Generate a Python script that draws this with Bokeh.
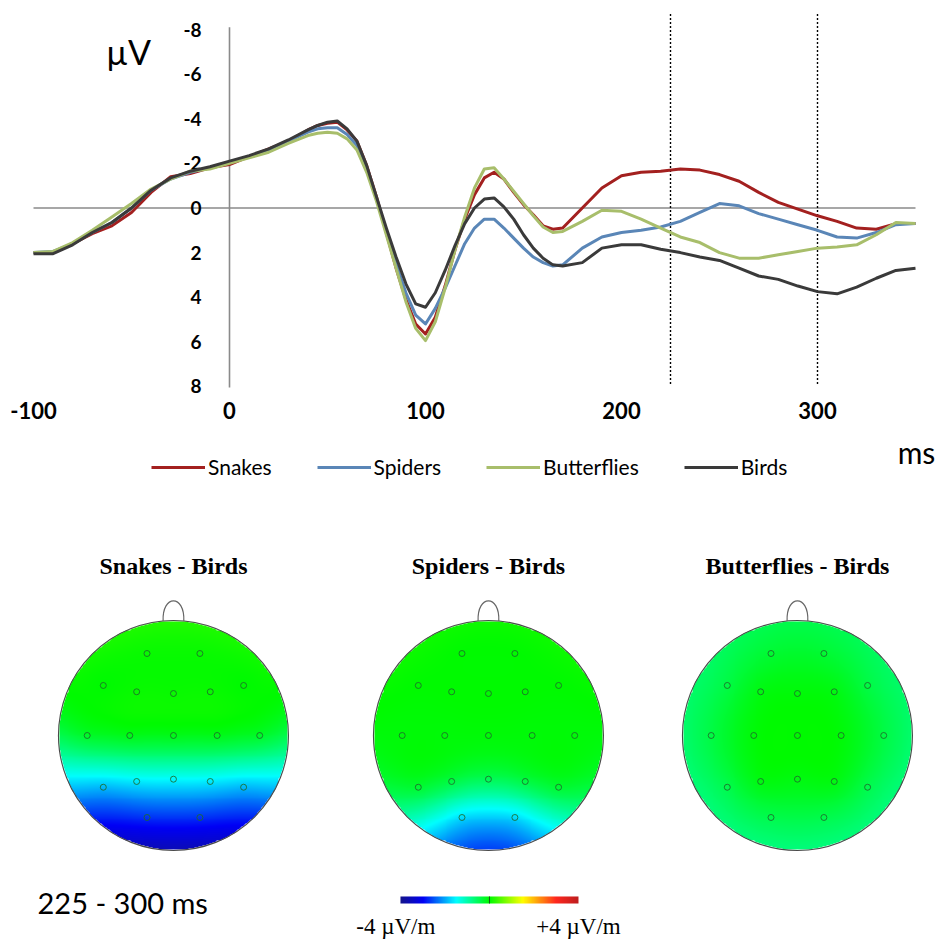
import numpy as np
from bokeh.plotting import figure
from bokeh.layouts import column
from bokeh.models import Range1d
from bokeh.core.properties import value
from bokeh.embed import file_html
from bokeh.resources import INLINE

# ---------------- ERP data (µV, negative plotted upward) ----------------
time_ms = [-100, -90, -80, -70, -60, -50, -40, -30, -20, -10, 0, 10, 20, 30, 40,
           45, 50, 55, 60, 65, 70, 75, 80, 85, 90, 95, 100, 105, 110, 115, 120, 125,
           130, 135, 140, 145, 150, 155, 160, 165, 170,
           180, 190, 200, 210, 220, 230, 240, 250, 260, 270, 280, 290, 300, 310, 320,
           330, 340, 350]

snakes = [2.0, 2.0, 1.6, 1.15, 0.8, 0.2, -0.7, -1.4, -1.55, -1.8, -1.95, -2.3, -2.65, -3.0, -3.5,
          -3.7, -3.8, -3.85, -3.5, -3.0, -1.9, -0.5, 1.1, 2.7, 4.1, 5.2, 5.65, 4.9, 3.5, 1.9, 0.5,
          -0.6, -1.35, -1.6, -1.3, -0.7, -0.15, 0.3, 0.8, 0.95, 0.9,
          0.0, -0.9, -1.45, -1.6, -1.65, -1.75, -1.7, -1.5, -1.2, -0.7, -0.25, 0.05, 0.35, 0.6,
          0.9, 0.95, 0.7, 0.7]
spiders = [2.0, 1.95, 1.6, 1.1, 0.65, 0.0, -0.8, -1.3, -1.6, -1.8, -2.05, -2.3, -2.6, -3.0, -3.4,
           -3.55, -3.6, -3.6, -3.3, -2.8, -1.7, -0.4, 1.0, 2.5, 3.8, 4.8, 5.2, 4.5, 3.6, 2.6, 1.6,
           0.9, 0.5, 0.5, 0.9, 1.35, 1.8, 2.2, 2.45, 2.6, 2.55,
           1.8, 1.3, 1.1, 1.0, 0.85, 0.6, 0.2, -0.2, -0.1, 0.25, 0.5, 0.75, 1.0, 1.3,
           1.35, 1.1, 0.75, 0.7]
butterflies = [2.0, 1.95, 1.55, 1.0, 0.4, -0.2, -0.85, -1.3, -1.65, -1.75, -2.0, -2.25, -2.5, -2.9, -3.25,
               -3.35, -3.4, -3.35, -3.1, -2.6, -1.6, -0.3, 1.2, 2.7, 4.2, 5.4, 5.95, 5.1, 3.6, 1.9, 0.4,
               -0.9, -1.75, -1.8, -1.3, -0.75, -0.2, 0.35, 0.85, 1.1, 1.05,
               0.6, 0.1, 0.15, 0.5, 0.9, 1.3, 1.55, 2.0, 2.25, 2.25, 2.1, 1.95, 1.8, 1.75,
               1.65, 1.2, 0.65, 0.7]
birds = [2.05, 2.05, 1.65, 1.1, 0.65, 0.0, -0.8, -1.35, -1.65, -1.85, -2.1, -2.35, -2.65, -3.05, -3.5,
         -3.7, -3.85, -3.9, -3.55, -3.0, -1.9, -0.5, 0.9, 2.2, 3.4, 4.3, 4.45, 3.8, 2.8, 1.7, 0.7,
         0.0, -0.4, -0.45, -0.05, 0.5, 1.2, 1.8, 2.25, 2.55, 2.6,
         2.45, 1.8, 1.65, 1.65, 1.85, 2.0, 2.2, 2.35, 2.7, 3.05, 3.2, 3.5, 3.75, 3.85,
         3.55, 3.15, 2.8, 2.7]

series_names = ["Snakes", "Spiders", "Butterflies", "Birds"]
series_colors = ["#A3201F", "#5A86B7", "#A8BE6B", "#3A3A3A"]

y_ticks = [-8, -6, -4, -2, 0, 2, 4, 6, 8]
y_tick_labels = ["-8", "-6", "-4", "-2", "0", "2", "4", "6", "8"]
x_ticks = [-100, 0, 100, 200, 300]
x_tick_labels = ["-100", "0", "100", "200", "300"]
window_ms = [225, 300]

# ---------------- topographic map data (µV/m, 225-300 ms) ----------------
electrode_names = ["Fp1", "Fp2", "F7", "F3", "Fz", "F4", "F8", "T3", "C3", "Cz", "C4", "T4",
                   "T5", "P3", "Pz", "P4", "T6", "O1", "O2"]
electrode_x = [-0.23, 0.23, -0.61, -0.32, 0.0, 0.32, 0.61, -0.75, -0.38, 0.0, 0.38, 0.75,
               -0.61, -0.32, 0.0, 0.32, 0.61, -0.23, 0.23]
electrode_y = [0.713, 0.713, 0.435, 0.38, 0.365, 0.38, 0.435, 0.0, 0.0, 0.0, 0.0, 0.0,
               -0.45, -0.40, -0.38, -0.40, -0.45, -0.713, -0.713]
snakes_minus_birds = [0.05, 0.05, 0.0, 0.05, 0.05, 0.05, 0.0, -0.25, -0.15, -0.15, -0.15, -0.25,
                      -1.9, -1.6, -1.5, -1.6, -1.9, -2.7, -2.7]
spiders_minus_birds = [0.0, 0.0, 0.0, 0.0, 0.0, 0.0, 0.0, -0.05, -0.05, -0.05, -0.05, -0.05,
                       -0.3, -0.4, -0.5, -0.4, -0.3, -1.7, -1.7]
butterflies_minus_birds = [-0.3, -0.3, -0.4, -0.1, -0.05, -0.1, -0.4, -0.4, -0.05, 0.0, -0.05, -0.4,
                           -0.45, -0.1, -0.1, -0.1, -0.45, -0.45, -0.45]
map_titles = ["Snakes - Birds", "Spiders - Birds", "Butterflies - Birds"]
cbar_limits = [-4, 4]
cbar_labels = ["-4 µV/m", "+4 µV/m"]
window_label = "225 - 300 ms"

# colormap stops (µV/m -> rgb)
cm_v = [-4.0, -3.0, -1.5, 0.0, 1.5, 3.0, 4.0]
cm_r = [20, 0, 0, 0, 255, 255, 190]
cm_g = [20, 0, 255, 250, 255, 40, 30]
cm_b = [140, 245, 255, 0, 0, 30, 30]

# ---------------- layout constants ----------------
W = 938
H1 = 496
H2 = 443
PXMS = 1.96          # px per ms
T0PX = 229.0         # x pixel of t = 0
PXUV = 22.3          # px per µV
V0PX = 207.5         # y pixel (from top) of 0 µV

x_start = (0 - T0PX) / PXMS
x_end = (W - T0PX) / PXMS
y_top = -V0PX / PXUV
y_bottom = (H1 - V0PX) / PXUV

p = figure(width=W, height=H1, x_range=Range1d(x_start, x_end),
           y_range=Range1d(y_bottom, y_top), x_axis_type=None, y_axis_type=None,
           toolbar_location=None, output_backend="svg", min_border=0,
           outline_line_color=None, background_fill_color="white")

axis_col = "#8a8a8a"
# zero line and y axis line
p.segment(x0=[time_ms[0]], y0=[0], x1=[time_ms[-1]], y1=[0], line_color=axis_col, line_width=1.6)
p.segment(x0=[0], y0=[y_ticks[0] - 0.1], x1=[0], y1=[y_ticks[-1] + 0.05], line_color=axis_col, line_width=1.6)
# analysis window dotted lines
p.segment(x0=window_ms, y0=[-8.7, -8.7], x1=window_ms, y1=[7.9, 7.9],
          line_color="black", line_width=1.4, line_dash="2 2")

# y tick labels
p.text(x=[0] * len(y_ticks), y=y_ticks, text=y_tick_labels, x_offset=-28,
       text_align="right", text_baseline="middle", text_font=value("Lato"),
       text_font_style="bold", text_font_size="19px", text_color="black")
# x tick labels
p.text(x=x_ticks, y=[9.08] * len(x_ticks), text=x_tick_labels, text_align="center",
       text_baseline="middle", text_font=value("Lato"), text_font_style="bold",
       text_font_size="22px", text_color="black")
# unit labels
p.text(x=[-51.5], y=[-7.0], text=["µV"], text_align="center", text_baseline="middle",
       text_font=value("Lato"), text_font_size="34px", text_color="black")
p.text(x=[350.5], y=[10.96], text=["ms"], text_align="center", text_baseline="middle",
       text_font=value("Lato"), text_font_size="30px", text_color="black")

for name, col, vals in zip(series_names, series_colors, [snakes, spiders, butterflies, birds]):
    p.line(x=time_ms, y=vals, line_color=col, line_width=3, line_join="round",
           legend_label=name)

lg = p.legend[0]
lg.orientation = "horizontal"
lg.location = (151, 17)
lg.glyph_width = 54
lg.glyph_height = 20
lg.label_standoff = 3
lg.spacing = 45
lg.padding = 0
lg.margin = 0
lg.border_line_color = None
lg.background_fill_alpha = 0
lg.label_text_font = "Lato"
lg.label_text_font_size = "21px"
lg.label_text_color = "black"

# ---------------- topographic maps ----------------
U = 115.0
q = figure(width=W, height=H2, x_range=Range1d(0, W / U), y_range=Range1d(0, H2 / U),
           x_axis_type=None, y_axis_type=None, toolbar_location=None,
           output_backend="svg", min_border=0, outline_line_color=None,
           background_fill_color="white")

head_cx = [1.504, 4.243, 6.930]
head_cy = 1.774
title_y = 3.252


def colorize(v):
    v = np.clip(v, cm_v[0], cm_v[-1])
    r = np.interp(v, cm_v, cm_r)
    g = np.interp(v, cm_v, cm_g)
    b = np.interp(v, cm_v, cm_b)
    return r, g, b


def phi(r):
    safe = np.where(r > 0, r, 1.0)
    return np.where(r > 0, r * r * np.log(safe), 0.0)


ex = np.array(electrode_x)
ey = np.array(electrode_y)
n_el = len(ex)
Dm = np.sqrt((ex[:, None] - ex[None, :]) ** 2 + (ey[:, None] - ey[None, :]) ** 2)
Pm = np.column_stack([np.ones(n_el), ex, ey])
A = np.zeros((n_el + 3, n_el + 3))
A[:n_el, :n_el] = phi(Dm)
A[:n_el, n_el:] = Pm
A[n_el:, :n_el] = Pm.T

N = 241
g1 = np.linspace(-1, 1, N)
GX, GY = np.meshgrid(g1, g1)
gx = GX.ravel()
gy = GY.ravel()
Dg = np.sqrt((gx[:, None] - ex[None, :]) ** 2 + (gy[:, None] - ey[None, :]) ** 2)
Kg = phi(Dg)
inside = (GX ** 2 + GY ** 2) <= 1.0

for i, vals in enumerate([snakes_minus_birds, spiders_minus_birds, butterflies_minus_birds]):
    rhs = np.concatenate([np.array(vals, dtype=float), np.zeros(3)])
    sol = np.linalg.solve(A, rhs)
    field = Kg @ sol[:n_el] + sol[n_el] + sol[n_el + 1] * gx + sol[n_el + 2] * gy
    field = field.reshape(N, N)
    r, g, b = colorize(field)
    img = np.zeros((N, N, 4), dtype=np.uint8)
    img[..., 0] = r.astype(np.uint8)
    img[..., 1] = g.astype(np.uint8)
    img[..., 2] = b.astype(np.uint8)
    img[..., 3] = np.where(inside, 255, 0).astype(np.uint8)
    img32 = img.view(dtype=np.uint32).reshape((N, N))
    cx = head_cx[i]
    q.image_rgba(image=[img32], x=cx - 1, y=head_cy - 1, dw=2, dh=2)
    q.circle(x=[cx], y=[head_cy], radius=1.0, fill_color=None, line_color="#4a4a4a", line_width=1.1)
    q.bezier(x0=[cx - 0.09], y0=[head_cy + 0.995], x1=[cx + 0.09], y1=[head_cy + 0.995],
             cx0=[cx - 0.1], cy0=[head_cy + 1.23], cx1=[cx + 0.1], cy1=[head_cy + 1.23],
             line_color="#666666", line_width=1.2)
    q.circle(x=list(cx + ex), y=list(head_cy + ey), radius=0.026, fill_color=None,
             line_color="#1f6a2c", line_alpha=0.85, line_width=1)

q.text(x=head_cx, y=[title_y] * 3, text=map_titles, text_align="center", text_baseline="middle",
       text_font=value("Liberation Serif"), text_font_style="bold", text_font_size="24px",
       text_color="black")

# colour bar
cb_x0, cb_x1 = 3.478, 5.026
cb_y0, cb_h = 0.313, 0.061
cvals = np.linspace(cbar_limits[0], cbar_limits[1], 256)
cr, cg, cbb = colorize(cvals)
cimg = np.zeros((1, 256, 4), dtype=np.uint8)
cimg[0, :, 0] = cr.astype(np.uint8)
cimg[0, :, 1] = cg.astype(np.uint8)
cimg[0, :, 2] = cbb.astype(np.uint8)
cimg[0, :, 3] = 255
q.image_rgba(image=[cimg.view(dtype=np.uint32).reshape((1, 256))], x=cb_x0, y=cb_y0,
             dw=cb_x1 - cb_x0, dh=cb_h)
cb_mid = (cb_x0 + cb_x1) / 2
q.segment(x0=[cb_mid], y0=[cb_y0], x1=[cb_mid], y1=[cb_y0 + cb_h], line_color="#1a5a1a", line_width=1)
q.text(x=[cb_x0 - 0.04, cb_x1], y=[0.115, 0.115], text=cbar_labels, text_align="center",
       text_baseline="middle", text_font=value("Liberation Serif"), text_font_size="23px",
       text_color="black")
q.text(x=[0.322], y=[0.322], text=[window_label], text_align="left", text_baseline="middle",
       text_font=value("Lato"), text_font_size="29px", text_color="black")

layout = column(p, q, spacing=0)
open("out.html", "w").write(file_html(layout, INLINE))
